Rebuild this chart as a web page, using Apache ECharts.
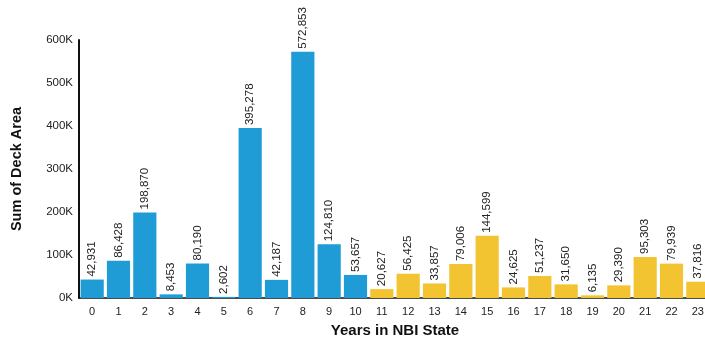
<!DOCTYPE html>
<html><head><meta charset="utf-8">
<script src="https://cdn.jsdelivr.net/npm/echarts@6/dist/echarts.min.js"></script>
<style>html,body{margin:0;padding:0;background:#fff;overflow:hidden}#c{width:712px;height:338px}</style>
</head><body><div id="c"></div>
<script>
const categories = ['0','1','2','3','4','5','6','7','8','9','10','11','12','13','14','15','16','17','18','19','20','21','22','23'];
const deckArea = [42931,86428,198870,8453,80190,2602,395278,42187,572853,124810,53657,20627,56425,33857,79006,144599,24625,51237,31650,6135,29390,95303,79939,37816];
const yTicks = [0,100000,200000,300000,400000,500000,600000];
const blueUntil = 10;

const chart = echarts.init(document.getElementById('c'));
chart.setOption({
  animation:false,
  textStyle:{fontFamily:'Liberation Sans, Arial, sans-serif'},
  grid:{left:79,right:1,top:40,bottom:40,containLabel:false,outerBoundsMode:'none'},
  xAxis:{type:'category',data:categories,
    name:'Years in NBI State',nameLocation:'middle',nameGap:25,
    nameTextStyle:{fontSize:15,fontWeight:'bold',color:'#111'},
    axisLine:{lineStyle:{color:'#111',width:1.5}},axisTick:{show:false},
    axisLabel:{fontSize:11,color:'#222',margin:8}},
  yAxis:{type:'value',min:yTicks[0],max:yTicks[yTicks.length-1],interval:100000,
    name:'Sum of Deck Area',nameLocation:'middle',nameGap:55,
    nameTextStyle:{fontSize:14.5,fontWeight:'bold',color:'#111'},
    axisLine:{show:true,lineStyle:{color:'#111',width:2}},axisTick:{show:false},splitLine:{show:false},
    axisLabel:{fontSize:11.5,color:'#222',margin:6,formatter:v=>(v/1000)+'K'}},
  series:[{type:'bar',data:deckArea,barCategoryGap:'12%',
    itemStyle:{color:p=>p.dataIndex<=blueUntil?'#1f9bd6':'#f3c431'},
    label:{show:true,position:'top',rotate:90,align:'left',verticalAlign:'middle',distance:3,
      fontSize:11.5,color:'#222',formatter:p=>p.value.toLocaleString('en-US')}}]
});
</script></body></html>
